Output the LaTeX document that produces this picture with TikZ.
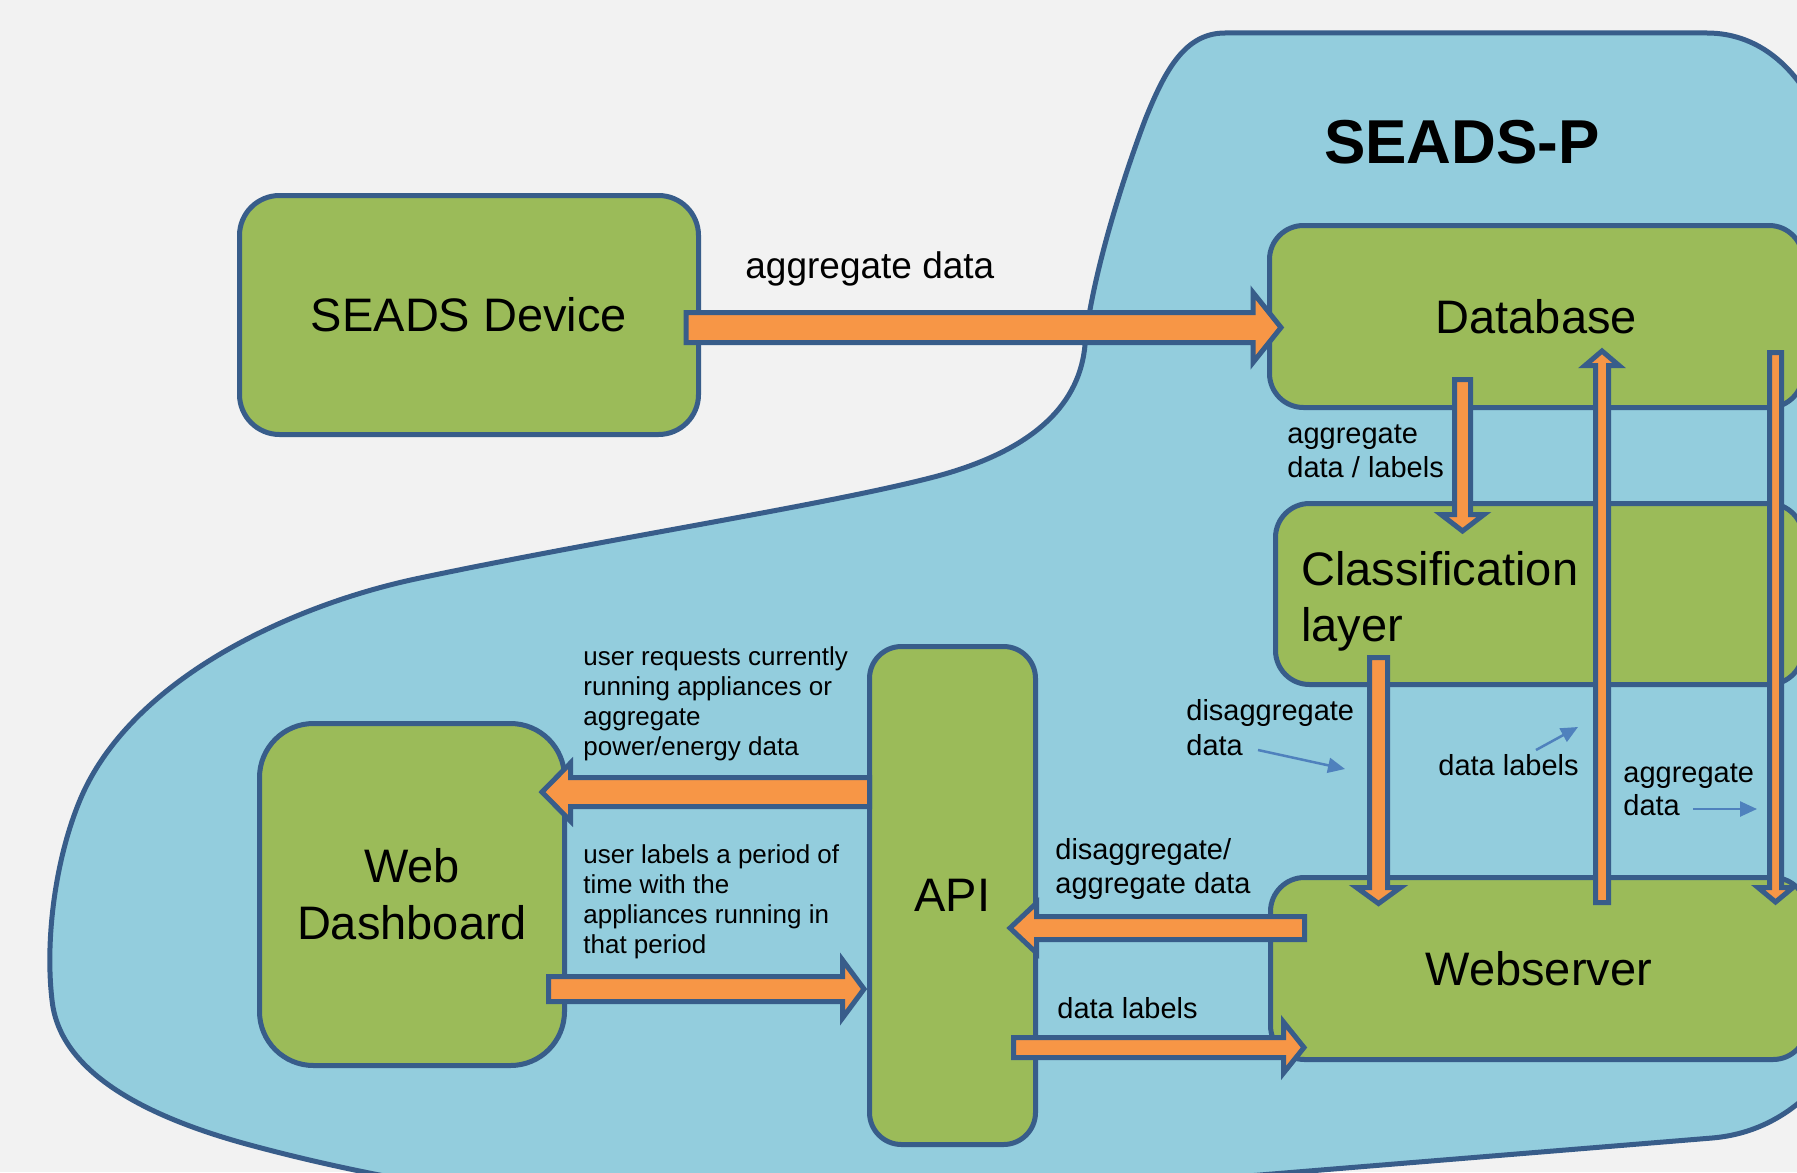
\documentclass[tikz,border=0pt]{standalone}
\usepackage{fontspec}
\setmainfont{Liberation Sans}
\usetikzlibrary{calc,arrows.meta}
\definecolor{bgc}{HTML}{F2F2F2}
\definecolor{blobc}{HTML}{93CDDD}
\definecolor{linec}{HTML}{385D8A}
\definecolor{greenc}{HTML}{9BBB59}
\definecolor{orangec}{HTML}{F79646}
\definecolor{smallc}{HTML}{4F81BD}
\tikzset{
  greenbox/.style={draw=linec, fill=greenc, line width=2.5pt, rounded corners=#1, inner sep=0pt,
    font=\fontsize{23.5}{28.5}\selectfont, align=center},
  barrow/.style={draw=linec, fill=orangec, line width=2.5pt, line join=miter},
  thinarrow/.style={draw=smallc, line width=1.25pt, -{Triangle[length=8.5pt,width=7.5pt]}},
  lbl/.style={inner sep=0pt, anchor=base west, align=left, font=\fontsize{14.5}{17}\selectfont},
  ulbl/.style={lbl, font=\fontsize{13}{15}\selectfont},
}
% #1 tail, #2 tip, #3 shaft half width, #4 head half width, #5 head length
\newcommand\blockarrow[5]{%
  \path ($(#2)!#5!(#1)$) coordinate (hb);
  \draw[barrow] ($(#1)!#3!90:(#2)$)
    -- ($(hb)!#3!90:(#2)$)
    -- ($(hb)!#4!90:(#2)$)
    -- (#2)
    -- ($(hb)!#4!-90:(#2)$)
    -- ($(hb)!#3!-90:(#2)$)
    -- ($(#1)!#3!-90:(#2)$) -- cycle;}
\begin{document}
\begin{tikzpicture}[x=0.5pt,y=-0.5pt]
\useasboundingbox (0,0) rectangle (1797,1172);
\clip (0,0) rectangle (1797,1172);
\fill[bgc] (0,0) rectangle (1797,1172);
% SEADS-P region
\draw[draw=linec, fill=blobc, line width=2.5pt]
 (1707,33) -- (1225,33)
 .. controls (1185,33) and (1165,70) .. (1145,120)
 .. controls (1115,200) and (1090,290) .. (1085,345)
 .. controls (1080,400) and (1040,450) .. (930,478)
 .. controls (820,506) and (600,540) .. (420,578)
 .. controls (290,605) and (130,680) .. (80,800)
 .. controls (55,860) and (45,940) .. (52,1000)
 .. controls (58,1060) and (120,1110) .. (250,1145)
 .. controls (350,1172) and (450,1190) .. (600,1210)
 -- (1150,1184) -- (1712,1138)
 .. controls (1760,1134) and (1800,1110) .. (1830,1070)
 -- (1835,160)
 .. controls (1810,70) and (1760,33) .. (1707,33) -- cycle;
% boxes
\node[greenbox=20pt, minimum width=229.5pt, minimum height=119.5pt] (dev) at (469,315) {SEADS Device};
\node[greenbox=17pt, minimum width=266.75pt, minimum height=91pt] (db) at (1536.25,316.5) {Database};
\node[greenbox=17pt, minimum width=263.75pt, minimum height=90.5pt] (cls) at (1539.25,594) {};
\node[greenbox=17pt, minimum width=268.25pt, minimum height=91pt] (web) at (1538.75,968.5) {Webserver};
\node[greenbox=27pt, minimum width=152.5pt, minimum height=171pt] (dash) at (412,894.5) {Web\\Dashboard};
\node[greenbox=16pt, minimum width=83pt, minimum height=249pt] (api) at (952.5,895.5) {API};
\node[inner sep=0pt, anchor=base west, align=left, font=\fontsize{23.5}{28}\selectfont] (clstext) at (1301,641) {Classification\\layer};
% arrow end points
\coordinate (a1t) at (686,327.5);    \coordinate (a1h) at (1281,327.5);
\coordinate (a2t) at (1462.5,379.5); \coordinate (a2h) at (1462.5,531);
\coordinate (a3t) at (1602,902.5);   \coordinate (a3h) at (1602,351);
\coordinate (a4t) at (1775.5,352.5); \coordinate (a4h) at (1775.5,902);
\coordinate (a5t) at (1378.5,657.5); \coordinate (a5h) at (1378.5,903.5);
\coordinate (a6t) at (1304.5,928);   \coordinate (a6h) at (1010,928);
\coordinate (a7t) at (1013.5,1047.5);\coordinate (a7h) at (1304,1047.5);
\coordinate (a8t) at (869.5,792);    \coordinate (a8h) at (542,792);
\coordinate (a9t) at (548.5,989);    \coordinate (a9h) at (864,989);
\blockarrow{a1t}{a1h}{7.5pt}{17.5pt}{14pt}
\blockarrow{a2t}{a2h}{4pt}{10.75pt}{8.25pt}
\blockarrow{a3t}{a3h}{3.25pt}{8.5pt}{7.25pt}
\blockarrow{a4t}{a4h}{3pt}{8.75pt}{7.25pt}
\blockarrow{a5t}{a5h}{4.5pt}{11pt}{8pt}
\blockarrow{a6t}{a6h}{5.75pt}{12.5pt}{13.25pt}
\blockarrow{a7t}{a7h}{5pt}{12.75pt}{10.25pt}
\blockarrow{a8t}{a8h}{7.25pt}{14.5pt}{14.25pt}
\blockarrow{a9t}{a9h}{6.25pt}{14.5pt}{10.75pt}
% small pointer arrows
\coordinate (s1a) at (1258,750); \coordinate (s1b) at (1345,769);
\coordinate (s2a) at (1536,750); \coordinate (s2b) at (1578,727);
\coordinate (s3a) at (1693,809); \coordinate (s3b) at (1757,809);
\draw[thinarrow] (s1a) -- (s1b);
\draw[thinarrow] (s2a) -- (s2b);
\draw[thinarrow] (s3a) -- (s3b);
% labels (base anchor = baseline of the last line)
\node[inner sep=0pt, anchor=base, font=\bfseries\fontsize{31}{36}\selectfont] (title) at (1462,163) {SEADS-P};
\node[lbl, font=\fontsize{18.5}{22}\selectfont] (l1) at (745,278) {aggregate data};
\node[lbl] (l3) at (1287,477) {aggregate\\data / labels};
\node[lbl, font=\fontsize{14.5}{17.5}\selectfont] (l4) at (1186,755) {disaggregate\\data};
\node[lbl] (l5) at (1438,775) {data labels};
\node[lbl, font=\fontsize{14.5}{16.5}\selectfont] (l6) at (1623,815) {aggregate\\data};
\node[lbl] (l7) at (1055,893) {disaggregate/\\aggregate data};
\node[lbl] (l8) at (1057,1018) {data labels};
\node[ulbl] (u1) at (583,755) {user requests currently\\running appliances or\\aggregate\\power/energy data};
\node[ulbl] (u2) at (583,953) {user labels a period of\\time with the\\appliances running in\\that period};
\end{tikzpicture}
\end{document}
